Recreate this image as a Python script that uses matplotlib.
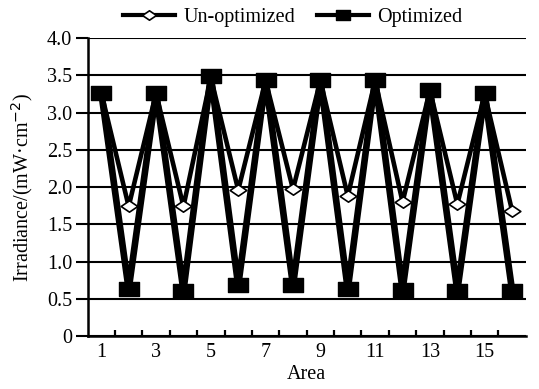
import numpy as np
import matplotlib.pyplot as plt
from matplotlib.path import Path

plt.rcParams['font.family'] = ['Liberation Serif', 'DejaVu Serif']

# --- data ---
areas = np.arange(1, 17)
unoptimized = [3.27, 1.74, 3.26, 1.74, 3.47, 1.96, 3.43, 1.97,
               3.43, 1.88, 3.43, 1.80, 3.30, 1.77, 3.25, 1.68]
optimized = [3.27, 0.63, 3.27, 0.61, 3.49, 0.68, 3.44, 0.68,
             3.44, 0.63, 3.44, 0.62, 3.31, 0.61, 3.26, 0.61]
odd_labels = [str(a) for a in areas if a % 2 == 1]
y_ticks = np.arange(0, 4.01, 0.5)
y_labels = ['0'] + [f'{v:.1f}' for v in y_ticks[1:]]

# flattened diamond and wide square markers
flat_diamond = Path([(-1, 0), (0, 0.68), (1, 0), (0, -0.68), (-1, 0)],
                    [Path.MOVETO, Path.LINETO, Path.LINETO, Path.LINETO, Path.CLOSEPOLY])
wide_square = Path([(-1, -0.68), (1, -0.68), (1, 0.68), (-1, 0.68), (-1, -0.68)],
                   [Path.MOVETO, Path.LINETO, Path.LINETO, Path.LINETO, Path.CLOSEPOLY])

fig = plt.figure(figsize=(5.39, 3.89), dpi=100)
ax = fig.add_axes([0.1625, 0.136, 0.813, 0.766])

ax.plot(areas, unoptimized, color='black', lw=3.3, marker=flat_diamond, ms=12,
        mfc='white', mec='black', mew=1.2, label='Un-optimized', zorder=3)
ax.plot(areas, optimized, color='black', lw=4.8, marker=wide_square, ms=14,
        mfc='black', mec='black', label='Optimized', zorder=4)

ax.set_xlim(0.5, 16.5)
ax.set_ylim(0, 4.0)
ax.set_yticks(y_ticks)
ax.set_yticklabels(y_labels)
ax.set_xticks(areas[::2])
ax.set_xticklabels(odd_labels)
ax.set_xticks(np.arange(1.5, 16, 1), minor=True)

ax.grid(axis='y', color='black', lw=1.5)
ax.set_axisbelow(True)
for side in ['top', 'right']:
    ax.spines[side].set_visible(False)
ax.spines['left'].set_linewidth(1.8)
ax.spines['bottom'].set_linewidth(1.8)

ax.tick_params(axis='x', which='major', length=0, labelsize=14.5, pad=5)
ax.tick_params(axis='x', which='minor', direction='in', length=4, width=1.6)
ax.tick_params(axis='y', direction='out', length=9, width=1.5, labelsize=14.5, pad=2)

ax.set_xlabel('Area', fontsize=14.5, labelpad=2)
ax.set_ylabel('Irradiance/(mW·cm$^{-2}$)', fontsize=14.5, labelpad=9)

leg = ax.legend(loc='center', bbox_to_anchor=(0.468, 1.07), ncol=2, frameon=False,
                fontsize=14.5, handlelength=2.6, handletextpad=0.4, columnspacing=1.1,
                borderaxespad=0, borderpad=0)
for h in leg.legend_handles:
    h.set_linewidth(3.0)
    h.set_markersize(10)

fig.savefig('out.png', dpi=100)
